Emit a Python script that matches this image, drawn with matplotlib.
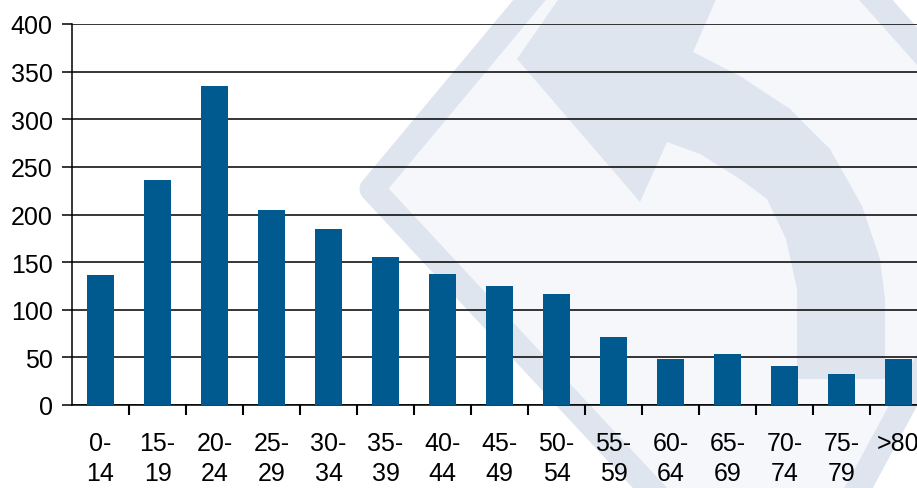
import matplotlib

matplotlib.use("Agg")

import matplotlib.pyplot as plt
import numpy as np
from matplotlib.patches import Polygon

plt.rcParams["font.family"] = ["Liberation Sans", "DejaVu Sans"]

age_groups = ["0-\n14", "15-\n19", "20-\n24", "25-\n29", "30-\n34", "35-\n39", "40-\n44", "45-\n49",
              "50-\n54", "55-\n59", "60-\n64", "65-\n69", "70-\n74", "75-\n79", ">80"]
counts = [136, 236, 335, 205, 185, 155, 138, 125, 117, 71, 48, 54, 41, 33, 48]
y_ticks = [0, 50, 100, 150, 200, 250, 300, 350, 400]

W, H = 917, 489
BAR_COLOR = "#015a8f"
MARK_BAND = "#dfe5ef"
MARK_FILL = "#f5f7fb"


def px(points):
    # pixel coords (origin top-left) -> figure fraction
    return [(x / W, 1 - y / H) for x, y in points]


def draw_watermark(fig):
    # faint logo behind the chart: rounded diamond outline + curved arrow
    diamond = px([(372, 190), (697, -200), (1029, 173), (782, 631)])
    fig.patches.append(Polygon(diamond, closed=True, transform=fig.transFigure, facecolor=MARK_FILL,
                               edgecolor=MARK_BAND, linewidth=18, joinstyle="round", zorder=0))
    arrow = px([(517, 60), (560, -2), (717, -2), (693, 53), (740, 77), (790, 110), (830, 150), (862, 207),
                (880, 260), (885, 300), (885, 380), (797, 380), (797, 290), (786, 240), (767, 200),
                (740, 180), (700, 155), (667, 143), (640, 203)])
    fig.patches.append(Polygon(arrow, closed=True, transform=fig.transFigure, facecolor=MARK_BAND,
                               edgecolor="none", zorder=0))


fig = plt.figure(figsize=(W / 100, H / 100), dpi=100)
fig.patch.set_facecolor("white")
draw_watermark(fig)

ax = fig.add_axes([72 / W, (H - 406) / H, 855 / W, 381 / H])
ax.set_zorder(2)
ax.patch.set_alpha(0)

x = np.arange(len(counts))
ax.bar(x, counts, width=0.46, color=BAR_COLOR, zorder=3)

ax.set_xlim(-0.5, len(counts) - 0.5)
ax.set_ylim(0, 400)
ax.set_yticks(y_ticks)
ax.yaxis.grid(True, color="black", linewidth=1.1, zorder=1)
ax.set_axisbelow(True)

ax.set_xticks(x)
ax.set_xticklabels(age_groups, linespacing=1.3, va="top")
ax.set_xticks(np.arange(len(counts)) + 0.5, minor=True)
ax.tick_params(axis="x", which="major", length=0, pad=19, labelsize=18)
ax.tick_params(axis="x", which="minor", length=7, width=1.5, direction="out", color="black")
ax.tick_params(axis="y", length=7, width=1.1, direction="out", pad=7, labelsize=18)

for side in ["top", "right"]:
    ax.spines[side].set_visible(False)
ax.spines["left"].set_linewidth(1.1)
ax.spines["bottom"].set_linewidth(1.1)

fig.savefig("out.png", dpi=100)
